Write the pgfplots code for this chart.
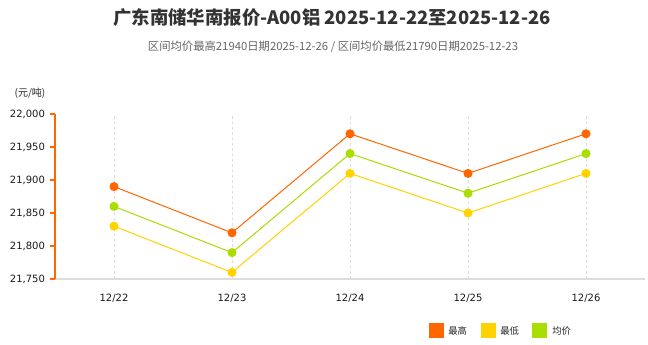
\documentclass[border=0pt]{standalone}
\usepackage{pgfplots}
\pgfplotsset{compat=1.18}
\usepackage{fontspec}
\setmainfont{Noto Sans CJK SC}
\newfontfamily\tickfont{DejaVu Sans}
\definecolor{cHigh}{HTML}{FF6600}
\definecolor{cLow}{HTML}{FFD200}
\definecolor{cAvg}{HTML}{AADD00}
\definecolor{cTitle}{HTML}{333333}
\definecolor{cSub}{HTML}{666666}
\definecolor{cGrid}{HTML}{DDDDDD}
\begin{document}
\begin{tikzpicture}[x=0.75pt,y=0.75pt]
\path[use as bounding box] (0,0) rectangle (648,344);
\node[font=\fontsize{13.8}{16}\selectfont\bfseries, text=cTitle] at (332,326) {广东南储华南报价-A00铝 2025-12-22至2025-12-26};
\node[font=\fontsize{8.5}{10}\selectfont, text=cSub] at (333,297) {区间均价最高21940日期2025-12-26 / 区间均价最低21790日期2025-12-23};
\node[font=\fontsize{7.5}{9}\selectfont, text=black!85] at (30,251) {(元/吨)};
\begin{axis}[
  at={(41.25pt,48.75pt)}, anchor=south west,
  scale only axis, width=442.5pt, height=123.75pt,
  xmin=-0.5, xmax=4.5, ymin=21750, ymax=22000,
  xtick={0,1,2,3,4},
  xticklabels={12/22,12/23,12/24,12/25,12/26},
  ytick={21750,21800,21850,21900,21950,22000},
  scaled y ticks=false,
  axis x line*=bottom, axis y line*=left,
  x axis line style={draw=cGrid, line width=0.8pt},
  y axis line style={draw=cHigh, line width=1.3pt},
  xtick style={draw=none},
  ytick style={draw=cHigh, line width=0.8pt},
  tick align=outside, major tick length=4pt,
  xmajorgrids, major x grid style={draw=cGrid, dash pattern=on 2pt off 2pt, line width=0.5pt},
  ticklabel style={font=\tickfont\fontsize{7.5}{9}\selectfont, text=black!90},
  /pgf/number format/fixed,
  /pgf/number format/1000 sep={,},
  /pgf/number format/assume math mode=true,
  xticklabel style={yshift=-4pt},
  clip=false,
]
\addplot[cHigh, line width=0.75pt, mark=*, mark size=3pt, mark options={fill=cHigh, draw=cHigh}] coordinates {(0,21890) (1,21820) (2,21970) (3,21910) (4,21970)};
\addplot[cLow, line width=0.75pt, mark=*, mark size=3pt, mark options={fill=cLow, draw=cLow}] coordinates {(0,21830) (1,21760) (2,21910) (3,21850) (4,21910)};
\addplot[cAvg, line width=0.75pt, mark=*, mark size=3pt, mark options={fill=cAvg, draw=cAvg}] coordinates {(0,21860) (1,21790) (2,21940) (3,21880) (4,21940)};
\end{axis}
\fill[cHigh] (429,6) rectangle (444,21);
\node[anchor=west, font=\fontsize{7}{8}\selectfont, text=black!85, inner sep=0pt] at (448,13.5) {最高};
\fill[cLow] (481,6) rectangle (496,21);
\node[anchor=west, font=\fontsize{7}{8}\selectfont, text=black!85, inner sep=0pt] at (500,13.5) {最低};
\fill[cAvg] (532,6) rectangle (547,21);
\node[anchor=west, font=\fontsize{7}{8}\selectfont, text=black!85, inner sep=0pt] at (552,13.5) {均价};
\end{tikzpicture}
\end{document}
